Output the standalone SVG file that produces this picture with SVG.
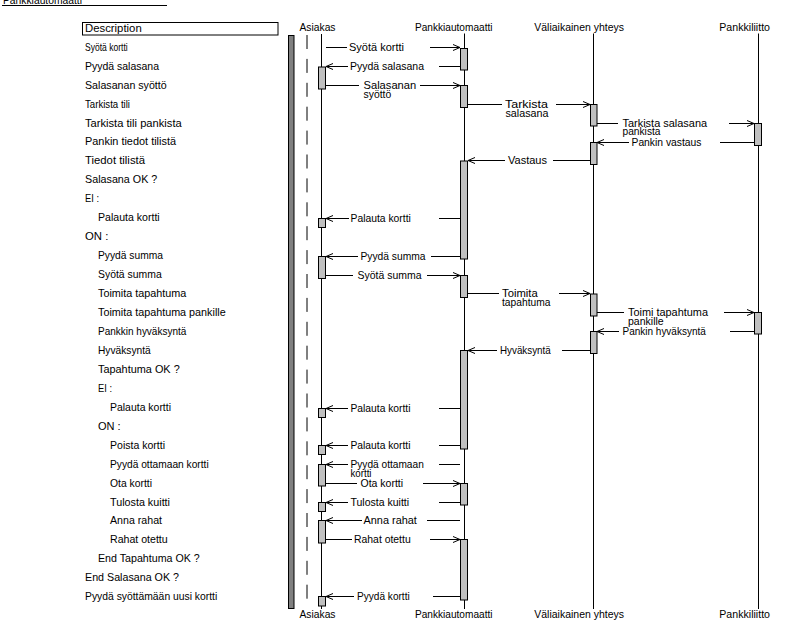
<svg xmlns="http://www.w3.org/2000/svg" width="800" height="626" viewBox="0 0 800 626">
<style>
text{font-family:"Liberation Sans",Arial,sans-serif;font-size:11px;fill:#000}
.ll{stroke:#000;stroke-width:1;fill:none}
.dash{stroke:#000;stroke-width:1;fill:none;stroke-dasharray:14 9.9}
.act{fill:#c0c0c0;stroke:#000;stroke-width:1}
.bar{fill:#808080;stroke:#000;stroke-width:1}
.m{stroke:#000;stroke-width:1;fill:none}
.a{marker-end:url(#ah)}
</style>
<defs>
<marker id="ah" markerUnits="userSpaceOnUse" markerWidth="10" markerHeight="10" refX="8" refY="4" orient="auto">
<path d="M1,1 L8,4 L1,7" fill="none" stroke="#000" stroke-width="1"/>
</marker>
</defs>
<rect width="800" height="626" fill="#fff"/>

<g id="title">
<text x="3" y="4" textLength="79" lengthAdjust="spacingAndGlyphs">Pankkiautomaatti</text>
<line x1="2" y1="5.5" x2="167" y2="5.5" class="ll"/>
</g>

<g id="description">
<rect x="82.5" y="22.5" width="195.5" height="12.5" fill="#fff" stroke="#000"/>
<text x="85" y="31.7" textLength="56.7" lengthAdjust="spacingAndGlyphs">Description</text>
<text x="85" y="50.7" textLength="42.7" lengthAdjust="spacingAndGlyphs">Syötä kortti</text>
<text x="85" y="69.65" textLength="74" lengthAdjust="spacingAndGlyphs">Pyydä salasana</text>
<text x="85" y="88.6" textLength="81.7" lengthAdjust="spacingAndGlyphs">Salasanan syöttö</text>
<text x="85" y="107.55" textLength="45" lengthAdjust="spacingAndGlyphs">Tarkista tili</text>
<text x="85" y="126.5" textLength="96.7" lengthAdjust="spacingAndGlyphs">Tarkista tili pankista</text>
<text x="85" y="145.45" textLength="91" lengthAdjust="spacingAndGlyphs">Pankin tiedot tilistä</text>
<text x="85" y="164.4" textLength="60" lengthAdjust="spacingAndGlyphs">Tiedot tilistä</text>
<text x="85" y="183.35" textLength="72.3" lengthAdjust="spacingAndGlyphs">Salasana OK ?</text>
<text x="85" y="202.3" textLength="14" lengthAdjust="spacingAndGlyphs">EI :</text>
<text x="98" y="221.25" textLength="61.7" lengthAdjust="spacingAndGlyphs">Palauta kortti</text>
<text x="85" y="240.2" textLength="23.3" lengthAdjust="spacingAndGlyphs">ON :</text>
<text x="98" y="259.15" textLength="65" lengthAdjust="spacingAndGlyphs">Pyydä summa</text>
<text x="98" y="278.1" textLength="63.7" lengthAdjust="spacingAndGlyphs">Syötä summa</text>
<text x="98" y="297.05" textLength="88.3" lengthAdjust="spacingAndGlyphs">Toimita tapahtuma</text>
<text x="98" y="316" textLength="127.7" lengthAdjust="spacingAndGlyphs">Toimita tapahtuma pankille</text>
<text x="98" y="334.95" textLength="88.3" lengthAdjust="spacingAndGlyphs">Pankkin hyväksyntä</text>
<text x="98" y="353.9" textLength="52.7" lengthAdjust="spacingAndGlyphs">Hyväksyntä</text>
<text x="98" y="372.85" textLength="81.7" lengthAdjust="spacingAndGlyphs">Tapahtuma OK ?</text>
<text x="98" y="391.8" textLength="14" lengthAdjust="spacingAndGlyphs">EI :</text>
<text x="110" y="410.75" textLength="61" lengthAdjust="spacingAndGlyphs">Palauta kortti</text>
<text x="98" y="429.7" textLength="22.7" lengthAdjust="spacingAndGlyphs">ON :</text>
<text x="110" y="448.65" textLength="55" lengthAdjust="spacingAndGlyphs">Poista kortti</text>
<text x="110" y="467.6" textLength="98.7" lengthAdjust="spacingAndGlyphs">Pyydä ottamaan kortti</text>
<text x="110" y="486.55" textLength="42" lengthAdjust="spacingAndGlyphs">Ota kortti</text>
<text x="110" y="505.5" textLength="60" lengthAdjust="spacingAndGlyphs">Tulosta kuitti</text>
<text x="110" y="524.45" textLength="52" lengthAdjust="spacingAndGlyphs">Anna rahat</text>
<text x="110" y="543.4" textLength="57.7" lengthAdjust="spacingAndGlyphs">Rahat otettu</text>
<text x="98" y="562.35" textLength="101.7" lengthAdjust="spacingAndGlyphs">End Tapahtuma OK ?</text>
<text x="85" y="581.3" textLength="94" lengthAdjust="spacingAndGlyphs">End Salasana OK ?</text>
<text x="85" y="600.25" textLength="132.3" lengthAdjust="spacingAndGlyphs">Pyydä syöttämään uusi kortti</text>
</g>

<g id="scope-bar">
<rect x="288.5" y="35.5" width="5.5" height="573" class="bar"/>
<line x1="307" y1="35" x2="307" y2="606" class="dash"/>
</g>

<g id="asiakas">
<text x="299.5" y="31" textLength="36" lengthAdjust="spacingAndGlyphs">Asiakas</text>
<line x1="321.5" y1="34" x2="321.5" y2="609" class="ll"/>
<text x="299.5" y="618.3" textLength="36" lengthAdjust="spacingAndGlyphs">Asiakas</text>
<rect x="318.5" y="67" width="7" height="22" class="act"/>
<rect x="318.5" y="218.5" width="7" height="9" class="act"/>
<rect x="318.5" y="256.5" width="7" height="22" class="act"/>
<rect x="318.5" y="408.5" width="7" height="9" class="act"/>
<rect x="318.5" y="445.5" width="7" height="9" class="act"/>
<rect x="318.5" y="464.5" width="7" height="21.5" class="act"/>
<rect x="318.5" y="502.5" width="7" height="9" class="act"/>
<rect x="318.5" y="520.5" width="7" height="22.5" class="act"/>
<rect x="318.5" y="596.5" width="7" height="9.5" class="act"/>
</g>

<g id="pankkiautomaatti">
<text x="415" y="31" textLength="77.5" lengthAdjust="spacingAndGlyphs">Pankkiautomaatti</text>
<line x1="464.5" y1="33.5" x2="464.5" y2="609" class="ll"/>
<text x="415" y="618.3" textLength="77.5" lengthAdjust="spacingAndGlyphs">Pankkiautomaatti</text>
<rect x="460.5" y="48.5" width="7" height="21.5" class="act"/>
<rect x="460.5" y="85.5" width="7" height="22" class="act"/>
<rect x="460.5" y="161" width="7" height="98" class="act"/>
<rect x="460.5" y="275.5" width="7" height="22" class="act"/>
<rect x="460.5" y="350.5" width="7" height="98.5" class="act"/>
<rect x="460.5" y="483.5" width="7" height="21.5" class="act"/>
<rect x="460.5" y="539.5" width="7" height="60.5" class="act"/>
</g>

<g id="valiaikainen-yhteys">
<text x="534.3" y="31" textLength="89.7" lengthAdjust="spacingAndGlyphs">Väliaikainen yhteys</text>
<line x1="593.5" y1="33.5" x2="593.5" y2="609" class="ll"/>
<text x="534.3" y="618.3" textLength="89.7" lengthAdjust="spacingAndGlyphs">Väliaikainen yhteys</text>
<rect x="590.5" y="104.5" width="6.5" height="21.5" class="act"/>
<rect x="590.5" y="142.5" width="6.5" height="22" class="act"/>
<rect x="590.5" y="294" width="6.5" height="22" class="act"/>
<rect x="590.5" y="331.5" width="6.5" height="22" class="act"/>
</g>

<g id="pankkiliitto">
<text x="719.3" y="31" textLength="50.7" lengthAdjust="spacingAndGlyphs">Pankkiliitto</text>
<line x1="758.5" y1="33.5" x2="758.5" y2="609" class="ll"/>
<text x="719.3" y="618.3" textLength="50.7" lengthAdjust="spacingAndGlyphs">Pankkiliitto</text>
<rect x="754.5" y="123.5" width="7" height="22" class="act"/>
<rect x="754.5" y="312.5" width="7" height="21.5" class="act"/>
</g>

<g id="connectors">
<!-- M1 Syötä kortti -->
<path class="m" d="M326 47.5H347"/><path class="m a" d="M430 47.5H460"/>
<text x="349" y="50.5" textLength="55" lengthAdjust="spacingAndGlyphs">Syötä kortti</text>
<!-- M2 Pyydä salasana -->
<path class="m" d="M460 66.5H439"/><path class="m a" d="M348 66.5H326"/>
<text x="350" y="69.5" textLength="74" lengthAdjust="spacingAndGlyphs">Pyydä salasana</text>
<!-- M3 Salasanan syöttö -->
<path class="m" d="M326 85.5H359"/><path class="m a" d="M420 85.5H460"/>
<text x="363.5" y="88.5" textLength="52.7" lengthAdjust="spacingAndGlyphs">Salasanan</text>
<text x="363.5" y="97.5" textLength="27.7" lengthAdjust="spacingAndGlyphs">syöttö</text>
<!-- M4 Tarkista salasana -->
<path class="m" d="M468 104.5H502"/><path class="m a" d="M556 104.5H590"/>
<text x="505" y="107.5" textLength="43" lengthAdjust="spacingAndGlyphs">Tarkista</text>
<text x="505.5" y="116.5" textLength="43" lengthAdjust="spacingAndGlyphs">salasana</text>
<!-- M5 Tarkista salasana pankista -->
<path class="m" d="M597 123.5H618"/><path class="m a" d="M729 123.5H754"/>
<text x="622.5" y="126.5" textLength="84.6" lengthAdjust="spacingAndGlyphs">Tarkista salasana</text>
<text x="622.5" y="135" textLength="38" lengthAdjust="spacingAndGlyphs">pankista</text>
<!-- M6 Pankin vastaus -->
<path class="m" d="M754 142.5H720"/><path class="m a" d="M629 142.5H597"/>
<text x="631.5" y="145.5" textLength="70" lengthAdjust="spacingAndGlyphs">Pankin vastaus</text>
<!-- M7 Vastaus -->
<path class="m" d="M590 160.5H553"/><path class="m a" d="M505 160.5H468"/>
<text x="508" y="163.5" textLength="39" lengthAdjust="spacingAndGlyphs">Vastaus</text>
<!-- M10 Palauta kortti -->
<path class="m" d="M460 218.5H439"/><path class="m a" d="M349 218.5H326"/>
<text x="350.5" y="221.5" textLength="60.3" lengthAdjust="spacingAndGlyphs">Palauta kortti</text>
<!-- M12 Pyydä summa -->
<path class="m" d="M460 256.5H431"/><path class="m a" d="M358 256.5H326"/>
<text x="360.5" y="259.5" textLength="65" lengthAdjust="spacingAndGlyphs">Pyydä summa</text>
<!-- M13 Syötä summa -->
<path class="m" d="M326 275.5H353"/><path class="m a" d="M427 275.5H460"/>
<text x="357.5" y="278.5" textLength="64" lengthAdjust="spacingAndGlyphs">Syötä summa</text>
<!-- M14 Toimita tapahtuma -->
<path class="m" d="M468 293.5H499"/><path class="m a" d="M559 293.5H590"/>
<text x="502" y="296.5" textLength="35.7" lengthAdjust="spacingAndGlyphs">Toimita</text>
<text x="502" y="305.5" textLength="48.4" lengthAdjust="spacingAndGlyphs">tapahtuma</text>
<!-- M15 Toimi tapahtuma pankille -->
<path class="m" d="M597 312.5H624"/><path class="m a" d="M724 312.5H754"/>
<text x="628" y="315.5" textLength="80" lengthAdjust="spacingAndGlyphs">Toimi tapahtuma</text>
<text x="628" y="324.5" textLength="35.7" lengthAdjust="spacingAndGlyphs">pankille</text>
<!-- M16 Pankin hyväksyntä -->
<path class="m" d="M754 331.5H730"/><path class="m a" d="M619 331.5H597"/>
<text x="622.5" y="334.5" textLength="83.3" lengthAdjust="spacingAndGlyphs">Pankin hyväksyntä</text>
<!-- M17 Hyväksyntä -->
<path class="m" d="M590 350.5H562"/><path class="m a" d="M497 350.5H468"/>
<text x="500" y="353.5" textLength="50.7" lengthAdjust="spacingAndGlyphs">Hyväksyntä</text>
<!-- M20 Palauta kortti -->
<path class="m" d="M460 408.5H439"/><path class="m a" d="M348 408.5H326"/>
<text x="350.5" y="411.5" textLength="60" lengthAdjust="spacingAndGlyphs">Palauta kortti</text>
<!-- M22 Palauta kortti -->
<path class="m" d="M460 445.5H439"/><path class="m a" d="M348 445.5H326"/>
<text x="350.5" y="448.5" textLength="60" lengthAdjust="spacingAndGlyphs">Palauta kortti</text>
<!-- M23 Pyydä ottamaan kortti -->
<path class="m" d="M460 464.5H439"/><path class="m a" d="M348 464.5H326"/>
<text x="350.5" y="467.5" textLength="73.3" lengthAdjust="spacingAndGlyphs">Pyydä ottamaan</text>
<text x="350.5" y="476.5" textLength="21" lengthAdjust="spacingAndGlyphs">kortti</text>
<!-- M24 Ota kortti -->
<path class="m" d="M326 483.5H357"/><path class="m a" d="M423 483.5H460"/>
<text x="360.5" y="486.5" textLength="42.6" lengthAdjust="spacingAndGlyphs">Ota kortti</text>
<!-- M25 Tulosta kuitti -->
<path class="m" d="M460 502.5H439"/><path class="m a" d="M348 502.5H326"/>
<text x="350.5" y="505.5" textLength="58.6" lengthAdjust="spacingAndGlyphs">Tulosta kuitti</text>
<!-- M26 Anna rahat -->
<path class="m" d="M460 520.5H427"/><path class="m a" d="M362 520.5H326"/>
<text x="363.5" y="523.5" textLength="53.4" lengthAdjust="spacingAndGlyphs">Anna rahat</text>
<!-- M27 Rahat otettu -->
<path class="m" d="M326 539.5H352"/><path class="m a" d="M430 539.5H460"/>
<text x="354" y="542.5" textLength="56.7" lengthAdjust="spacingAndGlyphs">Rahat otettu</text>
<!-- M30 Pyydä kortti -->
<path class="m" d="M460 596.5H433"/><path class="m a" d="M354 596.5H326"/>
<text x="357" y="599.5" textLength="52.7" lengthAdjust="spacingAndGlyphs">Pyydä kortti</text>
</g>
</svg>
